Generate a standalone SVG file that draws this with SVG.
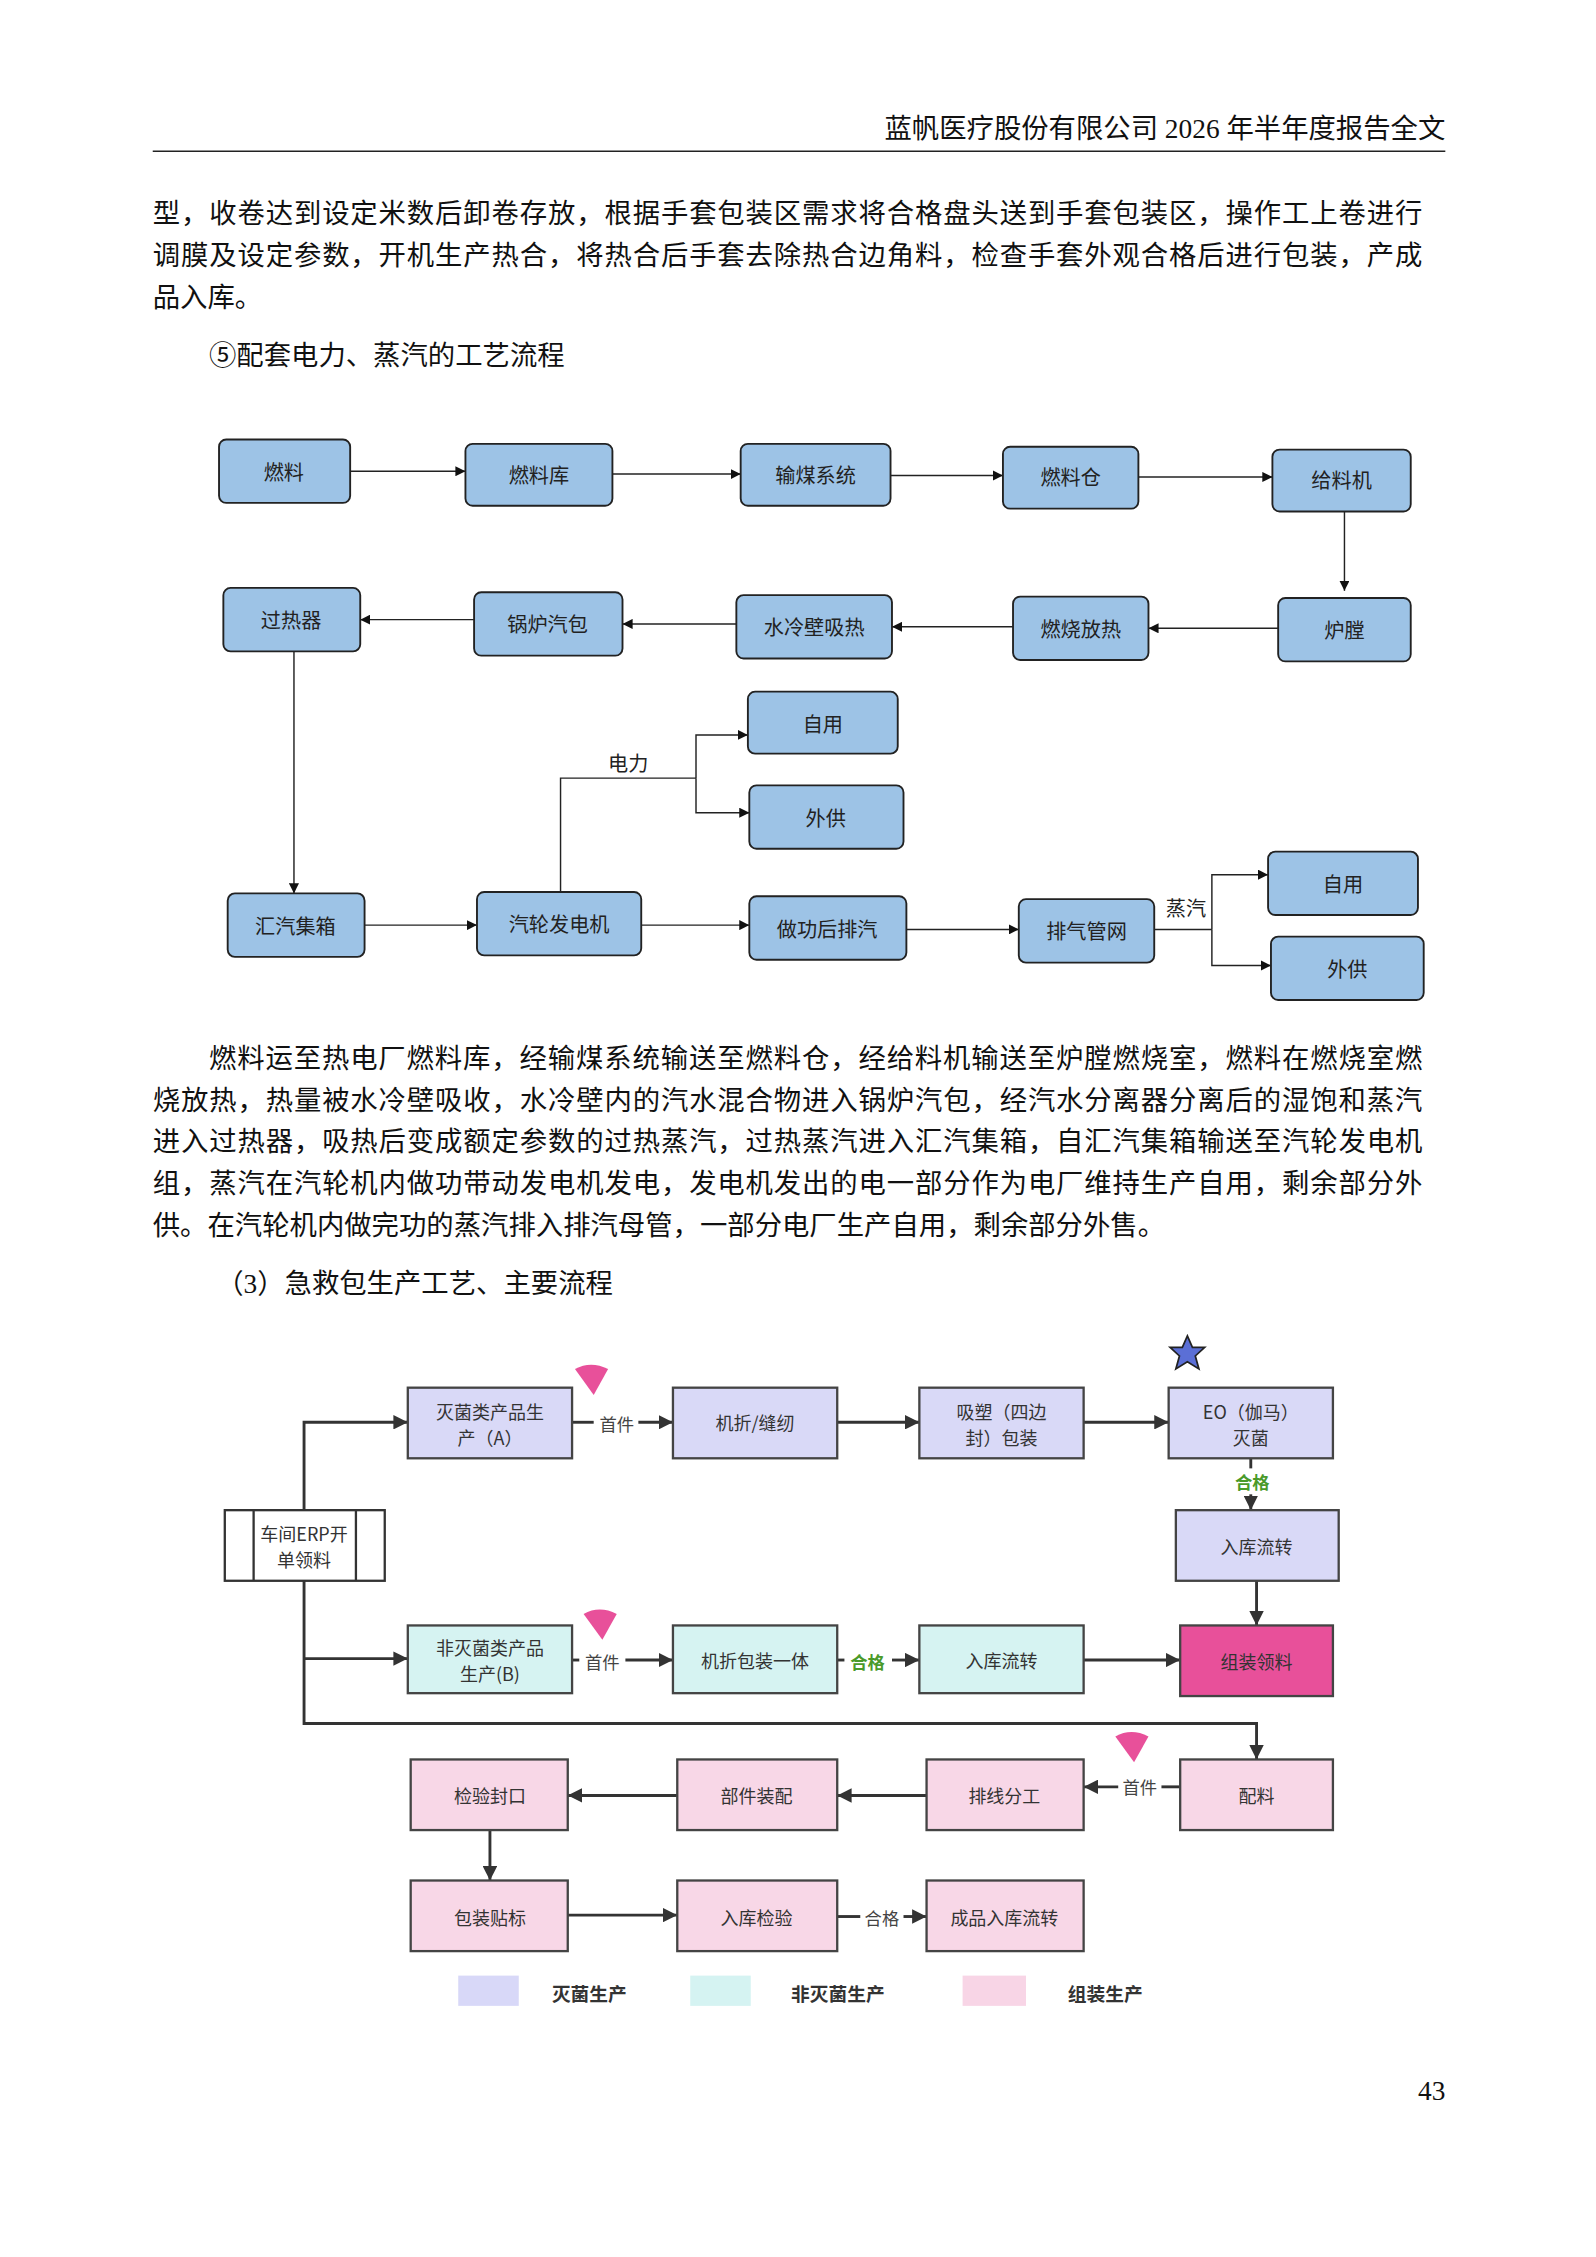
<svg xmlns="http://www.w3.org/2000/svg" width="1596" height="2257" viewBox="0 0 1596 2257">
<style>
.body{font-family:"Liberation Serif","Noto Sans CJK SC",serif;font-size:19px;fill:#111}
.b1{fill:#9dc3e6;stroke:#222;stroke-width:1.3}
.t1{font-family:"Noto Sans CJK SC",sans-serif;font-size:14px;fill:#222;text-anchor:middle;dominant-baseline:central}
.c{fill:none;stroke:#222;stroke-width:1}
.c2{fill:none;stroke:#333;stroke-width:2}
.t2{font-family:"Noto Sans CJK SC",sans-serif;font-size:12.5px;fill:#333;text-anchor:middle;dominant-baseline:central}
.bl{fill:#d9d9f7;stroke:#444;stroke-width:1.6}
.bc{fill:#d6f3f2;stroke:#444;stroke-width:1.6}
.bp{fill:#f8d7e7;stroke:#444;stroke-width:1.6}
.lbl{font-family:"Noto Sans CJK SC",sans-serif;font-size:12px;fill:#444;text-anchor:middle;dominant-baseline:central}
.ok{font-family:"Noto Sans CJK SC",sans-serif;font-size:12px;font-weight:bold;fill:#4a9a2a;text-anchor:middle;dominant-baseline:central}
.wedge{fill:#e8509a}
.leg{font-family:"Noto Sans CJK SC",sans-serif;font-size:13px;font-weight:bold;fill:#333;dominant-baseline:central}
</style>
<defs>
<marker id="a1" viewBox="0 0 10 10" refX="10" refY="5" markerWidth="7" markerHeight="7" orient="auto" markerUnits="userSpaceOnUse"><path d="M0,0L10,5L0,10z" fill="#111"/></marker>
<marker id="a2" viewBox="0 0 10 10" refX="10" refY="5" markerWidth="10" markerHeight="10" orient="auto" markerUnits="userSpaceOnUse"><path d="M0,0L10,5L0,10z" fill="#333"/></marker>
</defs>
<rect width="1596" height="2257" fill="#fff"/>
<g transform="scale(1.441)">
<text class="body" x="1003" y="96" text-anchor="end" font-size="16">蓝帆医疗股份有限公司 2026 年半年度报告全文</text>
<line x1="106" y1="105" x2="1003" y2="105" stroke="#222" stroke-width="1"/>
<text class="body" x="106" y="155" textLength="881" lengthAdjust="spacing">型，收卷达到设定米数后卸卷存放，根据手套包装区需求将合格盘头送到手套包装区，操作工上卷进行</text>
<text class="body" x="106" y="184" textLength="881" lengthAdjust="spacing">调膜及设定参数，开机生产热合，将热合后手套去除热合边角料，检查手套外观合格后进行包装，产成</text>
<text class="body" x="106" y="213">品入库。</text>
<text class="body" x="145" y="253">⑤配套电力、蒸汽的工艺流程</text>

<g id="connectors1">
<path class="c" d="M243,327H323" marker-end="url(#a1)"/>
<path class="c" d="M425,329H514" marker-end="url(#a1)"/>
<path class="c" d="M618,330H696" marker-end="url(#a1)"/>
<path class="c" d="M790,331H883" marker-end="url(#a1)"/>
<path class="c" d="M933,355V410" marker-end="url(#a1)"/>
<path class="c" d="M887,436H797" marker-end="url(#a1)"/>
<path class="c" d="M703,435H619" marker-end="url(#a1)"/>
<path class="c" d="M511,433H432" marker-end="url(#a1)"/>
<path class="c" d="M329,430H250" marker-end="url(#a1)"/>
<path class="c" d="M204,452V620" marker-end="url(#a1)"/>
<path class="c" d="M253,642H331" marker-end="url(#a1)"/>
<path class="c" d="M445,642H520" marker-end="url(#a1)"/>
<path class="c" d="M629,645H707" marker-end="url(#a1)"/>
<path class="c" d="M389,619V540H483"/>
<path class="c" d="M483,540V510H519" marker-end="url(#a1)"/>
<path class="c" d="M483,540V564H520" marker-end="url(#a1)"/>
<path class="c" d="M801,645H841"/>
<path class="c" d="M841,645V607H880" marker-end="url(#a1)"/>
<path class="c" d="M841,645V670H882" marker-end="url(#a1)"/>
<text class="t1" x="436" y="529" font-size="12">电力</text>
<text class="t1" x="823" y="630" font-size="12">蒸汽</text>
</g>
<g id="n1"><rect class="b1" x="152" y="305" width="91" height="44" rx="5"/><text class="t1" x="197" y="327">燃料</text></g>
<g id="n2"><rect class="b1" x="323" y="308" width="102" height="43" rx="5"/><text class="t1" x="374" y="329">燃料库</text></g>
<g id="n3"><rect class="b1" x="514" y="308" width="104" height="43" rx="5"/><text class="t1" x="566" y="329">输煤系统</text></g>
<g id="n4"><rect class="b1" x="696" y="310" width="94" height="43" rx="5"/><text class="t1" x="743" y="331">燃料仓</text></g>
<g id="n5"><rect class="b1" x="883" y="312" width="96" height="43" rx="5"/><text class="t1" x="931" y="333">给料机</text></g>
<g id="n6"><rect class="b1" x="155" y="408" width="95" height="44" rx="5"/><text class="t1" x="202" y="430">过热器</text></g>
<g id="n7"><rect class="b1" x="329" y="411" width="103" height="44" rx="5"/><text class="t1" x="380" y="433">锅炉汽包</text></g>
<g id="n8"><rect class="b1" x="511" y="413" width="108" height="44" rx="5"/><text class="t1" x="565" y="435">水冷壁吸热</text></g>
<g id="n9"><rect class="b1" x="703" y="414" width="94" height="44" rx="5"/><text class="t1" x="750" y="436">燃烧放热</text></g>
<g id="n10"><rect class="b1" x="887" y="415" width="92" height="44" rx="5"/><text class="t1" x="933" y="437">炉膛</text></g>
<g id="n11"><rect class="b1" x="519" y="480" width="104" height="43" rx="5"/><text class="t1" x="571" y="502">自用</text></g>
<g id="n12"><rect class="b1" x="520" y="545" width="107" height="44" rx="5"/><text class="t1" x="573" y="567">外供</text></g>
<g id="n13"><rect class="b1" x="158" y="620" width="95" height="44" rx="5"/><text class="t1" x="205" y="642">汇汽集箱</text></g>
<g id="n14"><rect class="b1" x="331" y="619" width="114" height="44" rx="5"/><text class="t1" x="388" y="641">汽轮发电机</text></g>
<g id="n15"><rect class="b1" x="520" y="622" width="109" height="44" rx="5"/><text class="t1" x="574" y="644">做功后排汽</text></g>
<g id="n16"><rect class="b1" x="707" y="624" width="94" height="44" rx="5"/><text class="t1" x="754" y="646">排气管网</text></g>
<g id="n17"><rect class="b1" x="880" y="591" width="104" height="44" rx="5"/><text class="t1" x="932" y="613">自用</text></g>
<g id="n18"><rect class="b1" x="882" y="650" width="106" height="44" rx="5"/><text class="t1" x="935" y="672">外供</text></g>

<text class="body" x="145" y="741" textLength="842" lengthAdjust="spacing">燃料运至热电厂燃料库，经输煤系统输送至燃料仓，经给料机输送至炉膛燃烧室，燃料在燃烧室燃</text>
<text class="body" x="106" y="770" textLength="881" lengthAdjust="spacing">烧放热，热量被水冷壁吸收，水冷壁内的汽水混合物进入锅炉汽包，经汽水分离器分离后的湿饱和蒸汽</text>
<text class="body" x="106" y="799" textLength="881" lengthAdjust="spacing">进入过热器，吸热后变成额定参数的过热蒸汽，过热蒸汽进入汇汽集箱，自汇汽集箱输送至汽轮发电机</text>
<text class="body" x="106" y="828" textLength="881" lengthAdjust="spacing">组，蒸汽在汽轮机内做功带动发电机发电，发电机发出的电一部分作为电厂维持生产自用，剩余部分外</text>
<text class="body" x="106" y="857">供。在汽轮机内做完功的蒸汽排入排汽母管，一部分电厂生产自用，剩余部分外售。</text>
<text class="body" x="150" y="897">（3）急救包生产工艺、主要流程</text>

<g id="connectors2">
<path class="c2" d="M211,1048V987H283" marker-end="url(#a2)"/>
<path class="c2" d="M211,1097V1196H872V1221" marker-end="url(#a2)"/>
<path class="c2" d="M211,1151H283" marker-end="url(#a2)"/>
<path class="c2" d="M397,987H412"/>
<path class="c2" d="M443,987H467" marker-end="url(#a2)"/>
<path class="c2" d="M581,987H638" marker-end="url(#a2)"/>
<path class="c2" d="M752,987H811" marker-end="url(#a2)"/>
<path class="c2" d="M868,1012V1019"/>
<path class="c2" d="M868,1037V1048" marker-end="url(#a2)"/>
<path class="c2" d="M872,1097V1128" marker-end="url(#a2)"/>
<path class="c2" d="M397,1152H402"/>
<path class="c2" d="M434,1152H467" marker-end="url(#a2)"/>
<path class="c2" d="M581,1152H586"/>
<path class="c2" d="M619,1152H638" marker-end="url(#a2)"/>
<path class="c2" d="M752,1152H819" marker-end="url(#a2)"/>
<path class="c2" d="M819,1240H806"/>
<path class="c2" d="M776,1240H752" marker-end="url(#a2)"/>
<path class="c2" d="M643,1246H581" marker-end="url(#a2)"/>
<path class="c2" d="M470,1246H394" marker-end="url(#a2)"/>
<path class="c2" d="M340,1270V1305" marker-end="url(#a2)"/>
<path class="c2" d="M394,1329H470" marker-end="url(#a2)"/>
<path class="c2" d="M581,1330H597"/>
<path class="c2" d="M627,1330H643" marker-end="url(#a2)"/>
<text class="lbl" x="428" y="988">首件</text>
<text class="lbl" x="418" y="1153">首件</text>
<text class="ok" x="602" y="1153">合格</text>
<text class="ok" x="869" y="1028">合格</text>
<text class="lbl" x="791" y="1240">首件</text>
<text class="lbl" x="612" y="1331">合格</text>
</g>
<g id="m1"><rect class="bl" x="283" y="963" width="114" height="49"/><text class="t2" x="340" y="979">灭菌类产品生</text><text class="t2" x="340" y="997">产（A）</text></g>
<g id="m2"><rect class="bl" x="467" y="963" width="114" height="49"/><text class="t2" x="524" y="987">机折/缝纫</text></g>
<g id="m3"><rect class="bl" x="638" y="963" width="114" height="49"/><text class="t2" x="695" y="979">吸塑（四边</text><text class="t2" x="695" y="997">封）包装</text></g>
<g id="m4"><rect class="bl" x="811" y="963" width="114" height="49"/><text class="t2" x="868" y="979">EO（伽马）</text><text class="t2" x="868" y="997">灭菌</text></g>
<g id="m5"><rect fill="#fff" stroke="#333" stroke-width="1.6" x="156" y="1048" width="111" height="49"/><line x1="176" y1="1048" x2="176" y2="1097" stroke="#333" stroke-width="1.6"/><line x1="247" y1="1048" x2="247" y2="1097" stroke="#333" stroke-width="1.6"/><text class="t2" x="211" y="1064">车间ERP开</text><text class="t2" x="211" y="1082">单领料</text></g>
<g id="m6"><rect class="bl" x="816" y="1048" width="113" height="49"/><text class="t2" x="872" y="1073">入库流转</text></g>
<g id="m7"><rect class="bc" x="283" y="1128" width="114" height="47"/><text class="t2" x="340" y="1143">非灭菌类产品</text><text class="t2" x="340" y="1161">生产(B)</text></g>
<g id="m8"><rect class="bc" x="467" y="1128" width="114" height="47"/><text class="t2" x="524" y="1152">机折包装一体</text></g>
<g id="m9"><rect class="bc" x="638" y="1128" width="114" height="47"/><text class="t2" x="695" y="1152">入库流转</text></g>
<g id="m10"><rect fill="#e8509a" stroke="#444" stroke-width="1.6" x="819" y="1128" width="106" height="49"/><text class="t2" x="872" y="1153" fill="#8a1f55">组装领料</text></g>
<g id="m11"><rect class="bp" x="819" y="1221" width="106" height="49"/><text class="t2" x="872" y="1246">配料</text></g>
<g id="m12"><rect class="bp" x="643" y="1221" width="109" height="49"/><text class="t2" x="697" y="1246">排线分工</text></g>
<g id="m13"><rect class="bp" x="470" y="1221" width="111" height="49"/><text class="t2" x="525" y="1246">部件装配</text></g>
<g id="m14"><rect class="bp" x="285" y="1221" width="109" height="49"/><text class="t2" x="340" y="1246">检验封口</text></g>
<g id="m15"><rect class="bp" x="285" y="1305" width="109" height="49"/><text class="t2" x="340" y="1330">包装贴标</text></g>
<g id="m16"><rect class="bp" x="470" y="1305" width="111" height="49"/><text class="t2" x="525" y="1330">入库检验</text></g>
<g id="m17"><rect class="bp" x="643" y="1305" width="109" height="49"/><text class="t2" x="697" y="1330">成品入库流转</text></g>
<path class="wedge" d="M399,950Q410,944 422,950L412,968Z"/>
<path class="wedge" d="M405,1120Q416,1114 428,1120L418,1138Z"/>
<path class="wedge" d="M774,1205Q785,1199 797,1205L787,1223Z"/>
<polygon points="824,927 827.5,935 836,935 829.5,941 832,950 824,945 816,950 818.5,941 812,935 820.5,935" fill="#5b6fd6" stroke="#222" stroke-width="1.2"/>
<rect x="318" y="1371" width="42" height="21" fill="#d8d8f8"/><text class="leg" x="383" y="1383">灭菌生产</text>
<rect x="479" y="1371" width="42" height="21" fill="#d5f3f2"/><text class="leg" x="549" y="1383">非灭菌生产</text>
<rect x="668" y="1371" width="44" height="21" fill="#f8d5e6"/><text class="leg" x="741" y="1383">组装生产</text>
<text class="body" x="1003" y="1457" text-anchor="end" font-size="15">43</text>
</g>
</svg>
